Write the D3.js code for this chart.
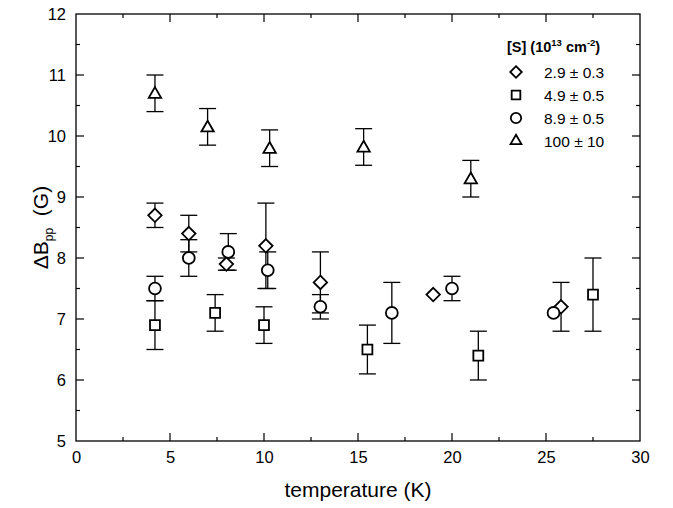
<!DOCTYPE html>
<html><head><meta charset="utf-8">
<script src="https://cdn.jsdelivr.net/npm/d3@7"></script>
<style>body{margin:0;background:#fff}svg{display:block}text{font-family:"Liberation Sans",Arial,sans-serif;fill:#000}</style>
</head><body><svg id="c" width="673" height="508"></svg>
<script>
// Data: [temperature K, dBpp G, error G]
const diamondT = [4.2, 6.0, 8.0, 10.1, 13.0, 19.0, 25.8];
const diamondY = [8.7, 8.4, 7.9, 8.2, 7.6, 7.4, 7.2];
const diamondE = [0.2, 0.3, 0.1, 0.7, 0.5, 0, 0.4];
const squareT = [4.2, 7.4, 10.0, 15.5, 21.4, 27.5];
const squareY = [6.9, 7.1, 6.9, 6.5, 6.4, 7.4];
const squareE = [0.4, 0.3, 0.3, 0.4, 0.4, 0.6];
const circleT = [4.2, 6.0, 8.1, 10.2, 13.0, 16.8, 20.0, 25.4];
const circleY = [7.5, 8.0, 8.1, 7.8, 7.2, 7.1, 7.5, 7.1];
const circleE = [0.2, 0.3, 0.3, 0.3, 0.2, 0.5, 0.2, 0];
const triangleT = [4.2, 7.0, 10.3, 15.3, 21.0];
const triangleY = [10.7, 10.15, 9.8, 9.82, 9.3];
const triangleE = [0.3, 0.3, 0.3, 0.3, 0.3];
const legendLabels = ["2.9 \u00b1 0.3", "4.9 \u00b1 0.5", "8.9 \u00b1 0.5", "100 \u00b1 10"];
const xTicks = [0, 5, 10, 15, 20, 25, 30];
const yTicks = [5, 6, 7, 8, 9, 10, 11, 12];

const svg = d3.select("#c");
const L = 76, R = 640, T = 14, B = 441;
const x = d3.scaleLinear().domain([0, 30]).range([L, R]);
const y = d3.scaleLinear().domain([5, 12]).range([B, T]);

// frame
svg.append("rect").attr("x", L).attr("y", T).attr("width", R - L).attr("height", B - T)
  .attr("fill", "none").attr("stroke", "#000").attr("stroke-width", 1.3);

// axes with inward ticks
const xMinor = d3.range(2.5, 30, 5);
const yMinor = d3.range(5.5, 12, 1);
const gxB = svg.append("g").attr("transform", `translate(0,${B})`)
  .call(d3.axisBottom(x).tickValues(xTicks).tickSize(0).tickPadding(10).tickFormat(d3.format("d")));
gxB.select(".domain").remove();
gxB.selectAll("text").attr("font-size", 16.5);
const gyL = svg.append("g").attr("transform", `translate(${L},0)`)
  .call(d3.axisLeft(y).tickValues(yTicks).tickSize(0).tickPadding(10).tickFormat(d3.format("d")));
gyL.select(".domain").remove();
gyL.selectAll("text").attr("font-size", 16.5);

const tk = svg.append("g").attr("stroke", "#000").attr("stroke-width", 1.2);
xTicks.slice(1, -1).forEach(v => {
  tk.append("line").attr("x1", x(v)).attr("x2", x(v)).attr("y1", B).attr("y2", B - 8);
  tk.append("line").attr("x1", x(v)).attr("x2", x(v)).attr("y1", T).attr("y2", T + 8);
});
xMinor.forEach(v => {
  tk.append("line").attr("x1", x(v)).attr("x2", x(v)).attr("y1", B).attr("y2", B - 4);
  tk.append("line").attr("x1", x(v)).attr("x2", x(v)).attr("y1", T).attr("y2", T + 4);
});
yTicks.slice(1, -1).forEach(v => {
  tk.append("line").attr("y1", y(v)).attr("y2", y(v)).attr("x1", L).attr("x2", L + 8);
  tk.append("line").attr("y1", y(v)).attr("y2", y(v)).attr("x1", R).attr("x2", R - 8);
});
yMinor.forEach(v => {
  tk.append("line").attr("y1", y(v)).attr("y2", y(v)).attr("x1", L).attr("x2", L + 4);
  tk.append("line").attr("y1", y(v)).attr("y2", y(v)).attr("x1", R).attr("x2", R - 4);
});

// axis titles
svg.append("text").attr("x", (L + R) / 2).attr("y", 497).attr("text-anchor", "middle")
  .attr("font-size", 21).text("temperature (K)");
const yt = svg.append("text").attr("transform", `translate(48,${(T + B) / 2}) rotate(-90)`)
  .attr("text-anchor", "middle").attr("font-size", 21);
yt.append("tspan").text("\u0394B");
yt.append("tspan").attr("font-size", 12).attr("dy", 5).text("pp");
yt.append("tspan").attr("dy", -5).text("\u00a0\u00a0(G)");

// symbols
const sym = {
  diamond: d3.symbol().type(d3.symbolDiamond2).size(115),
  square: d3.symbol().type(d3.symbolSquare2).size(125),
  circle: d3.symbol().type(d3.symbolCircle).size(110),
  triangle: d3.symbol().type(d3.symbolTriangle2).size(110)
};
const series = [
  {k: "diamond", t: diamondT, v: diamondY, e: diamondE},
  {k: "square", t: squareT, v: squareY, e: squareE},
  {k: "circle", t: circleT, v: circleY, e: circleE},
  {k: "triangle", t: triangleT, v: triangleY, e: triangleE}
];
const eb = svg.append("g").attr("stroke", "#000").attr("stroke-width", 1.3);
series.forEach(s => {
  s.t.forEach((t, i) => {
    if (!s.e[i]) return;
    const cx = x(t), y0 = y(s.v[i] - s.e[i]), y1 = y(s.v[i] + s.e[i]);
    eb.append("line").attr("x1", cx).attr("x2", cx).attr("y1", y0).attr("y2", y1);
    eb.append("line").attr("x1", cx - 8.5).attr("x2", cx + 8.5).attr("y1", y0).attr("y2", y0);
    eb.append("line").attr("x1", cx - 8.5).attr("x2", cx + 8.5).attr("y1", y1).attr("y2", y1);
  });
});
series.forEach(s => {
  svg.append("g").selectAll("path").data(s.t).join("path")
    .attr("transform", (t, i) => `translate(${x(t)},${y(s.v[i]) + (s.k === "triangle" ? 1 : 0)})`)
    .attr("d", sym[s.k]).attr("fill", "#fff").attr("stroke", "#000").attr("stroke-width", 1.8);
});

// legend
const lg = svg.append("g");
const lt = lg.append("text").attr("x", 507).attr("y", 52).attr("font-size", 14.5).attr("font-weight", "bold");
lt.append("tspan").text("[S] (10");
lt.append("tspan").attr("font-size", 9.5).attr("dy", -6).text("13");
lt.append("tspan").attr("dy", 6).text(" cm");
lt.append("tspan").attr("font-size", 9.5).attr("dy", -6).text("-2");
lt.append("tspan").attr("dy", 6).text(")");
series.forEach((s, i) => {
  const yy = 72 + i * 23;
  lg.append("path").attr("transform", `translate(516,${yy})`)
    .attr("d", d3.symbol().type(sym[s.k].type()).size(s.k === "square" ? 95 : 85))
    .attr("fill", "#fff").attr("stroke", "#000").attr("stroke-width", 1.8);
  lg.append("text").attr("x", 544).attr("y", yy + 5.5).attr("font-size", 15.5).text(legendLabels[i]);
});
</script></body></html>
